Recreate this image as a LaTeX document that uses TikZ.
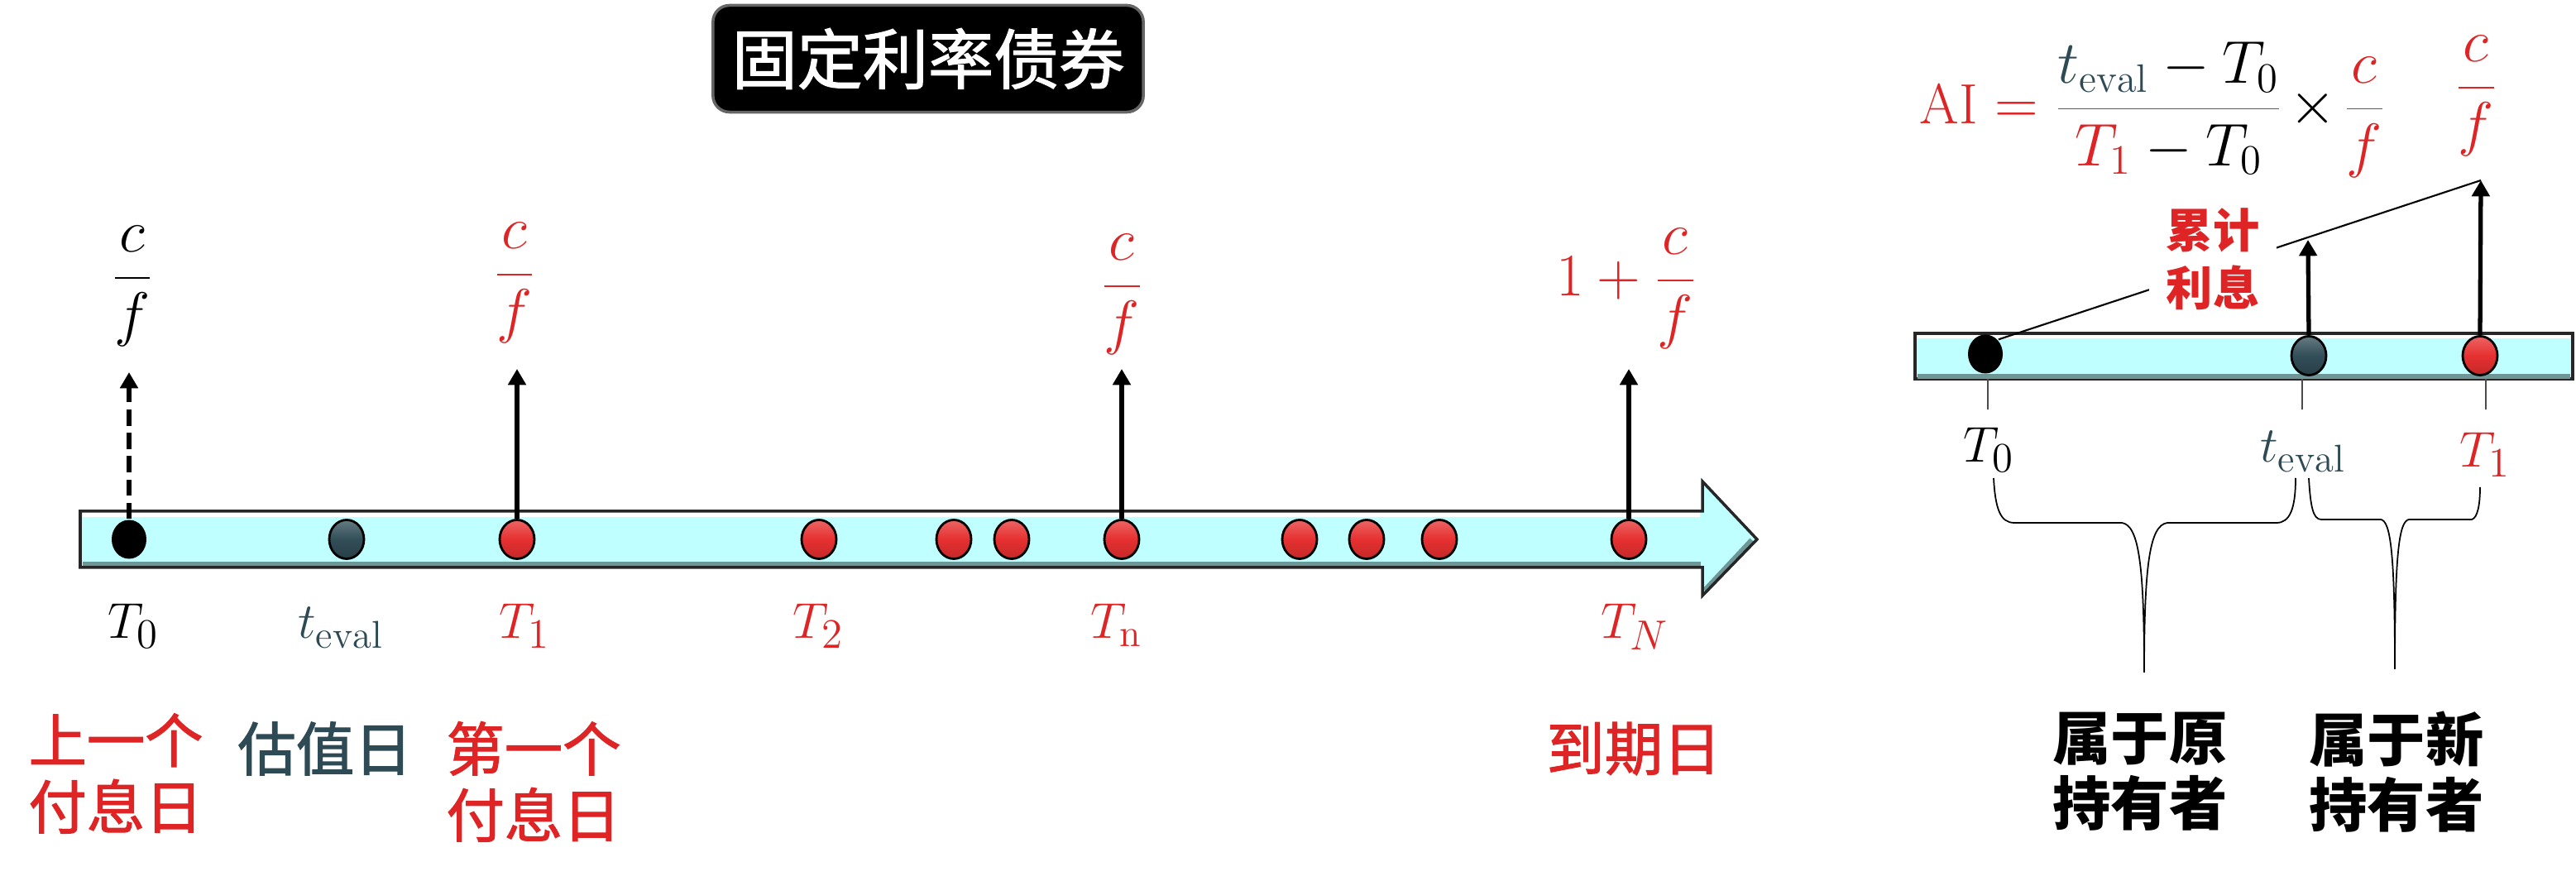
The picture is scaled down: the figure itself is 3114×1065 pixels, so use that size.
\documentclass[tikz,border=0pt]{standalone}
\usepackage{fontspec}
\usetikzlibrary{shapes.geometric,arrows.meta}
\newfontfamily\cjk{Noto Sans CJK SC}
\newfontfamily\cjkm{Noto Sans CJK SC}[FakeBold=1.6]
\definecolor{myred}{RGB}{222,36,36}
\definecolor{slate}{RGB}{46,74,84}
\definecolor{barcyan}{RGB}{191,255,255}
\definecolor{barshade}{RGB}{110,150,150}
\definecolor{dotred}{RGB}{230,48,48}
\definecolor{dotslate}{RGB}{50,78,88}
\begin{document}
\begin{tikzpicture}[x=0.01cm,y=-0.01cm,
  dot/.style={ellipse,minimum width=0.42cm,minimum height=0.47cm,inner sep=0pt,draw=black,line width=0.8pt},
  reddot/.style={dot,top color=dotred!75!white,bottom color=dotred!85!black,middle color=dotred},
  slatedot/.style={dot,top color=dotslate!75!white,bottom color=dotslate!80!black,middle color=dotslate},
  blackdot/.style={dot,fill=black,draw=none},
  flow/.style={line width=1.5pt,-{Triangle[width=6pt,length=5.5pt]}},
  mlab/.style={font=\fontsize{19}{23}\selectfont,inner sep=0pt,anchor=base},
  frac/.style={font=\fontsize{19.5}{23}\selectfont,inner sep=0pt},
  cn/.style={font=\cjkm\fontsize{20}{22.8}\selectfont,align=center,inner sep=0pt},
  cnb/.style={font=\cjk\bfseries\fontsize{20}{22.5}\selectfont,align=center,inner sep=0pt},
  tick/.style={line width=0.5pt,black!70},
  brace/.style={line width=0.5pt}
]
\useasboundingbox (0,0) rectangle (3114,1065);

% title
\node[fill=black,draw=black!60,line width=1pt,rounded corners=0.2cm,minimum width=5.2cm,minimum height=1.29cm,inner sep=0pt] (title) at (1122,71) {\cjkm\fontsize{22.5}{26}\selectfont\color{white}固定利率债券};

% main timeline arrow
\fill[barcyan] (97,618) -- (2058,618) -- (2058,582) -- (2124,652) -- (2058,720) -- (2058,686) -- (97,686) -- cycle;
\draw[white,line width=1.5pt] (100,622) -- (2055,622);
\draw[barshade,line width=2pt] (100,683) -- (2056,683);
\draw[barshade,line width=2pt] (2061,714) -- (2118,653);
\draw[line width=1pt,black!85] (97,618) -- (2058,618) -- (2058,582) -- (2124,652) -- (2058,720) -- (2058,686) -- (97,686) -- cycle;

% dots
\node[blackdot] (d0) at (156,652) {};
\node[slatedot] (de) at (419,652) {};
\node[reddot] (d1) at (625,652) {};
\node[reddot] (d2) at (990,652) {};
\node[reddot] (d3) at (1153,652) {};
\node[reddot] (d4) at (1223,652) {};
\node[reddot] (dn) at (1356,652) {};
\node[reddot] (d5) at (1571,652) {};
\node[reddot] (d6) at (1652,652) {};
\node[reddot] (d7) at (1740,652) {};
\node[reddot] (dN) at (1969,652) {};

% cash flow arrows
\coordinate (a0) at (156,450);
\coordinate (a1) at (625,446);
\coordinate (an) at (1356,446);
\coordinate (aN) at (1969,446);
\draw[flow,dash pattern=on 5.5pt off 2.5pt] (d0.north) -- (a0);
\draw[flow] (d1.north) -- (a1);
\draw[flow] (dn.north) -- (an);
\draw[flow] (dN.north) -- (aN);

% amounts
\node[frac] (f0) at (160,346) {$\displaystyle\frac{c}{f}$};
\node[frac,text=myred] (f1) at (622,342) {$\displaystyle\frac{c}{f}$};
\node[frac,text=myred] (fn) at (1356,356) {$\displaystyle\frac{c}{f}$};
\node[frac,text=myred] (fN) at (1966,349) {$\displaystyle 1+\frac{c}{f}$};

% time labels
\node[mlab] (l0) at (161,772) {$T_0$};
\node[mlab,text=slate] (le) at (412,772) {$t_{\mathrm{eval}}$};
\node[mlab,text=myred] (l1) at (634,772) {$T_1$};
\node[mlab,text=myred] (l2) at (989,772) {$T_2$};
\node[mlab,text=myred] (ln) at (1350,772) {$T_{\mathrm{n}}$};
\node[mlab,text=myred] (lN) at (1976,772) {$T_N$};

% chinese labels
\node[cn,text=myred] (c0) at (140,935) {上一个\\付息日};
\node[cn,text=slate] (ce) at (393,905) {估值日};
\node[cn,text=myred] (c1) at (645,945) {第一个\\付息日};
\node[cn,text=myred] (cN) at (1975,905) {到期日};

% ===== right panel =====
\draw[line width=1pt,black!85,fill=barcyan] (2315,403) rectangle (3110,458);
\draw[white,line width=1.2pt] (2318,407) -- (3107,407);
\draw[barshade,line width=1.5pt] (2318,455) -- (3107,455);
\node[blackdot] (r0) at (2400,428) {};
\node[slatedot] (re) at (2791,430) {};
\node[reddot] (r1) at (2998,430) {};

\coordinate (ae) at (2790,290);
\coordinate (ar) at (2999,218);
\draw[line width=0.6pt] (r0.north east) -- (ar);
\draw[flow] (re.north) -- (ae);
\draw[flow] (r1.north) -- (ar);

\node[font=\cjk\bfseries\fontsize{16}{19.9}\selectfont,align=center,text=myred,fill=white,inner xsep=6pt,inner ysep=2pt] (acc) at (2675,313) {累计\\利息};

% formula
\node[anchor=base west,inner sep=0pt,font=\fontsize{19.5}{23}\selectfont] (ai) at (2320,150)
  {$\color{myred}\mathrm{AI}=\displaystyle\frac{\color{slate}t_{\mathrm{eval}}\color{black}-T_0}{\color{myred}T_1\color{black}-T_0}\color{black}\mkern-2mu\times\mkern-2mu\color{myred}\frac{c}{f}$};
\node[frac,text=myred] (fr) at (2993,116) {$\displaystyle\frac{c}{f}$};

% ticks
\coordinate (t0) at (2403,495);
\coordinate (te) at (2783,495);
\coordinate (t1) at (3005,495);
\draw[tick] (2403,458) -- (t0);
\draw[tick] (2783,458) -- (te);
\draw[tick] (3005,458) -- (t1);

% right time labels
\node[mlab] (q0) at (2404,559) {$T_0$};
\node[mlab,text=slate] (qe) at (2784,559) {$t_{\mathrm{eval}}$};
\node[mlab,text=myred] (q1) at (3004,565) {$T_1$};

% braces
\draw[brace] (2410,578) .. controls (2412,615) and (2418,632) .. (2435,632) -- (2565,632)
  .. controls (2585,635) and (2592,680) .. (2592,813)
  .. controls (2592,680) and (2599,635) .. (2620,632) -- (2752,632)
  .. controls (2768,632) and (2775,615) .. (2775,578);
\draw[brace] (2791,578) .. controls (2793,612) and (2796,628) .. (2806,628) -- (2878,628)
  .. controls (2890,630) and (2895,670) .. (2895,809)
  .. controls (2895,670) and (2900,630) .. (2912,628) -- (2988,628)
  .. controls (2995,626) and (2998,610) .. (2998,589);

\node[cnb] (o1) at (2587,933) {属于原\\持有者};
\node[cnb] (o2) at (2897,933) {属于新\\持有者};
\end{tikzpicture}
\end{document}
